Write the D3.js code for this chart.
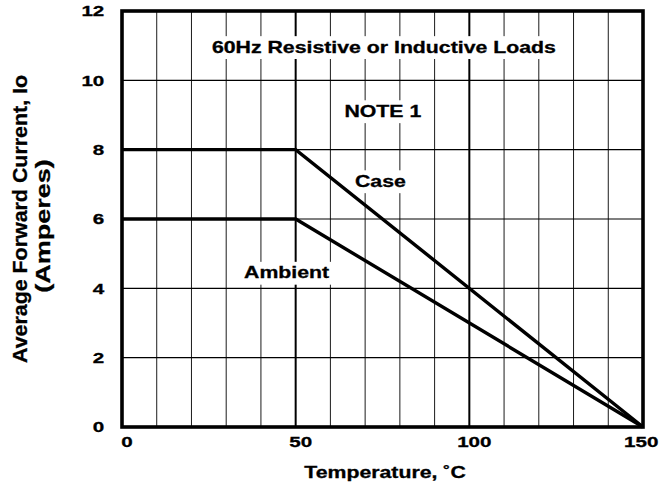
<!DOCTYPE html>
<html><head><meta charset="utf-8">
<script src="https://cdn.jsdelivr.net/npm/d3@7"></script>
<style>body{margin:0;background:#fff}svg{display:block}text{font-family:"Liberation Sans",Arial,sans-serif;font-weight:bold;fill:#000;stroke:#000;stroke-width:0.3px}</style>
</head><body>
<svg id="c" width="660" height="486"></svg>
<script>
const xTicks = [0, 50, 100, 150];
const yTicks = [0, 2, 4, 6, 8, 10, 12];
const xGrid = [10, 20, 30, 40, 50, 60, 70, 80, 90, 100, 110, 120, 130, 140];
const yGrid = [2, 4, 6, 8, 10];
const caseTemp = [0, 50, 150];
const caseCurrent = [8, 8, 0];
const ambientTemp = [0, 50, 150];
const ambientCurrent = [6, 6, 0];
const annotations = [
  {text: "60Hz Resistive or Inductive Loads", x: 75.4, y: 10.8},
  {text: "NOTE 1", x: 75.1, y: 8.95},
  {text: "Case", x: 74.4, y: 6.93},
  {text: "Ambient", x: 47.4, y: 4.29}
];

const SX = 1.33, FS = 16, TFS = 15.5;
const svg = d3.select("#c");
const L = 122, R = 643, T = 11, B = 427;
const x = d3.scaleLinear().domain([0, 150]).range([L, R]);
const y = d3.scaleLinear().domain([0, 12]).range([B, T]);

svg.append("g").selectAll("line").data(xGrid).join("line")
  .attr("x1", d => x(d)).attr("x2", d => x(d)).attr("y1", T).attr("y2", B)
  .attr("stroke", "#000").attr("stroke-width", d => (d % 50 === 0 ? 2 : 0.9));
svg.append("g").selectAll("line").data(yGrid).join("line")
  .attr("y1", d => y(d)).attr("y2", d => y(d)).attr("x1", L).attr("x2", R)
  .attr("stroke", "#000").attr("stroke-width", 1.1);

const line = d3.line().x(d => x(d[0])).y(d => y(d[1]));
svg.append("path").datum(caseTemp.map((t, i) => [t, caseCurrent[i]]))
  .attr("d", line).attr("fill", "none").attr("stroke", "#000").attr("stroke-width", 3.4);
svg.append("path").datum(ambientTemp.map((t, i) => [t, ambientCurrent[i]]))
  .attr("d", line).attr("fill", "none").attr("stroke", "#000").attr("stroke-width", 3.4);

svg.append("rect").attr("x", L).attr("y", T).attr("width", R - L).attr("height", B - T)
  .attr("fill", "none").attr("stroke", "#000").attr("stroke-width", 3.6);

const ag = svg.append("g");
annotations.forEach(a => {
  const g = ag.append("g").attr("transform", `translate(${x(a.x)},${y(a.y)}) scale(${SX},1)`);
  const t = g.append("text").attr("text-anchor", "middle").attr("font-size", FS).text(a.text);
  const bb = t.node().getBBox();
  g.insert("rect", "text").attr("x", bb.x - 1).attr("y", bb.y - 2).attr("width", bb.width + 2).attr("height", bb.height + 5).attr("fill", "#fff");
});

const xAxis = d3.axisBottom(x).tickValues(xTicks).tickSize(0).tickPadding(9).tickFormat(d3.format("d"));
const gx = svg.append("g").attr("transform", `translate(0,${B})`).call(xAxis);
gx.select(".domain").remove();
gx.selectAll("text").attr("font-size", TFS).attr("font-family", null).attr("fill", "#000");
gx.selectAll(".tick").each(function(d) {
  const t = this.querySelector("text");
  const w = t.getBBox().width * SX;
  const cx = x(d) + 4.5;
  const shift = Math.min(0, 658 - (cx + w / 2));
  d3.select(t).attr("transform", `translate(${4.5 + shift},0) scale(${SX},1)`);
});

const yAxis = d3.axisLeft(y).tickValues(yTicks).tickSize(0).tickFormat(d3.format("d"));
const gy = svg.append("g").attr("transform", `translate(${L},0)`).call(yAxis);
gy.select(".domain").remove();
gy.selectAll("text").attr("font-size", TFS).attr("font-family", null).attr("fill", "#000").attr("x", 0)
  .attr("transform", `translate(${104.3 - L},0) scale(${SX},1)`);

svg.append("text").attr("transform", `translate(385,478) scale(${SX},1)`).attr("text-anchor", "middle").attr("font-size", FS).text("Temperature, ˚C");
svg.append("text").attr("transform", `translate(27,219) rotate(-90) scale(1.07,1)`).attr("text-anchor", "middle").attr("font-size", 20).text("Average Forward Current, Io");
svg.append("text").attr("transform", `translate(50,226) rotate(-90) scale(1.35,1)`).attr("text-anchor", "middle").attr("font-size", 20).text("(Amperes)");
</script>
</body></html>
